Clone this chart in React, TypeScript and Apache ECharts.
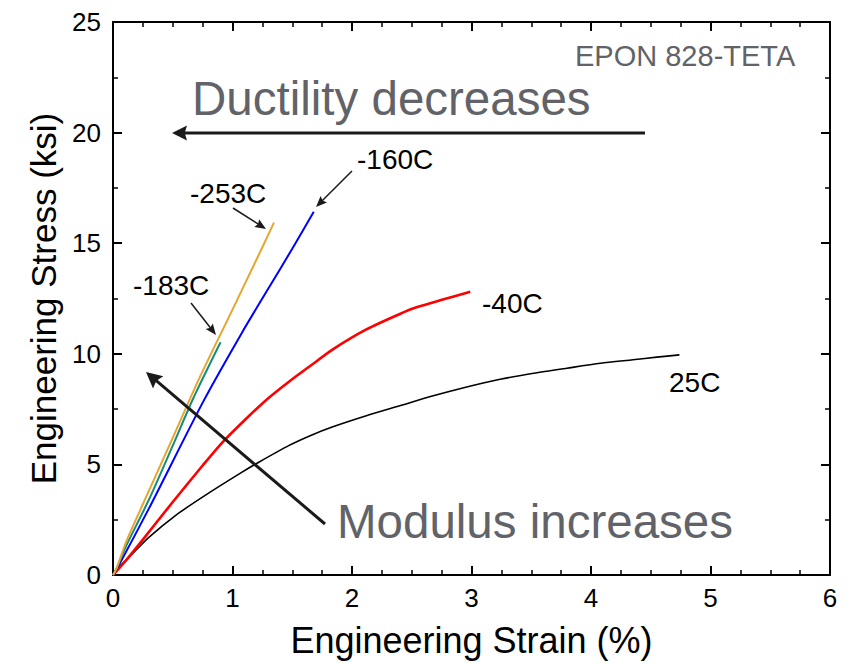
import React, { useEffect, useRef } from "react";
import * as echarts from "echarts";

// ---- data ----
const xTicks = [0, 1, 2, 3, 4, 5, 6];
const yTicks = [0, 5, 10, 15, 20, 25];

const strain25C = [0, 0.05, 0.134, 0.3, 0.525, 0.8, 1.08, 1.22, 1.47, 1.65, 1.84, 2.12, 2.4, 2.68, 2.96, 3.24, 3.52, 3.8, 4.08, 4.35, 4.55, 4.74];
const stress25C = [0, 0.35, 0.8, 1.7, 2.7, 3.7, 4.65, 5.1, 5.85, 6.3, 6.7, 7.2, 7.65, 8.1, 8.5, 8.85, 9.12, 9.35, 9.57, 9.73, 9.85, 9.95];

const strainM40C = [0, 0.1, 0.25, 0.5, 0.75, 0.916, 1.14, 1.29, 1.475, 1.65, 1.84, 2.12, 2.4, 2.54, 2.76, 2.99];
const stressM40C = [0, 0.6, 1.6, 3.3, 4.95, 6.0, 7.2, 7.95, 8.75, 9.45, 10.2, 11.1, 11.8, 12.1, 12.45, 12.8];

const strainM160C = [0, 0.05, 0.3, 0.756, 1.084, 1.3, 1.5, 1.68];
const stressM160C = [0, 0.45, 3.0, 7.85, 11.0, 12.95, 14.75, 16.42];

const strainM183C = [0, 0.03, 0.1, 0.3, 0.5, 0.672, 0.9];
const stressM183C = [0, 0.3, 1.2, 3.4, 5.85, 7.99, 10.52];

const strainM253C = [0, 0.03, 0.11, 0.3, 0.5, 0.714, 1.0, 1.2, 1.347];
const stressM253C = [0, 0.3, 1.5, 3.8, 6.2, 8.8, 12.0, 14.25, 15.93];

const FONT = "'Liberation Sans', Arial, sans-serif";
const GRAY = "#616368";

const zip = (xs: number[], ys: number[]) => xs.map((x, i) => [x, ys[i]]);

function arrow(x1: number, y1: number, x2: number, y2: number, w: number, headLen: number, headHalf: number) {
  const dx = x2 - x1;
  const dy = y2 - y1;
  const len = Math.sqrt(dx * dx + dy * dy);
  const ux = dx / len;
  const uy = dy / len;
  const bx = x2 - ux * headLen;
  const by = y2 - uy * headLen;
  const px = -uy;
  const py = ux;
  return [
    {
      type: "line",
      shape: { x1, y1, x2: x2 - ux * headLen * 0.6, y2: y2 - uy * headLen * 0.6 },
      style: { stroke: "#1a1a1a", lineWidth: w },
      z: 100,
    },
    {
      type: "polygon",
      shape: {
        points: [
          [x2, y2],
          [bx + px * headHalf, by + py * headHalf],
          [bx + ux * headLen * 0.15, by + uy * headLen * 0.15],
          [bx - px * headHalf, by - py * headHalf],
        ],
      },
      style: { fill: "#1a1a1a" },
      z: 100,
    },
  ];
}

function label(text: string, x: number, y: number, size: number, color: string) {
  return {
    type: "text",
    x,
    y,
    z: 100,
    style: {
      text,
      fill: color,
      fontSize: size,
      fontFamily: FONT,
      align: "left",
      verticalAlign: "middle",
    },
  };
}

export default function App() {
  const ref = useRef<HTMLDivElement>(null);

  useEffect(() => {
    if (!ref.current) return;
    const chart = echarts.init(ref.current, undefined, { renderer: "svg" });

    const baseX = {
      type: "value",
      min: xTicks[0],
      max: xTicks[xTicks.length - 1],
      interval: 1,
      splitLine: { show: false },
      axisLine: { show: true, onZero: false, lineStyle: { color: "#000", width: 2 } },
      axisTick: { show: true, inside: true, length: 9, lineStyle: { color: "#000", width: 2 } },
      minorTick: { show: true, splitNumber: 4, length: 5, lineStyle: { color: "#000", width: 1.5 } },
    };
    const baseY = {
      type: "value",
      min: yTicks[0],
      max: yTicks[yTicks.length - 1],
      interval: 5,
      splitLine: { show: false },
      axisLine: { show: true, onZero: false, lineStyle: { color: "#000", width: 2 } },
      axisTick: { show: true, inside: true, length: 9, lineStyle: { color: "#000", width: 2 } },
      minorTick: { show: true, splitNumber: 2, length: 5, lineStyle: { color: "#000", width: 1.5 } },
    };

    const lineSeries = (name: string, xs: number[], ys: number[], color: string, width: number) => ({
      name,
      type: "line",
      data: zip(xs, ys),
      showSymbol: false,
      symbol: "none",
      smooth: 0.25,
      lineStyle: { color, width },
      xAxisIndex: 0,
      yAxisIndex: 0,
    });

    chart.setOption({
      animation: false,
      backgroundColor: "#fff",
      grid: { left: 113, right: 38, top: 22, bottom: 91, containLabel: false },
      xAxis: [
        {
          ...baseX,
          position: "bottom",
          axisLabel: { show: true, color: "#000", fontSize: 26, fontFamily: FONT, margin: 10 },
          name: "Engineering Strain (%)",
          nameLocation: "middle",
          nameGap: 47,
          nameTextStyle: { color: "#000", fontSize: 36, fontFamily: FONT },
        },
        { ...baseX, position: "top", axisLabel: { show: false } },
      ],
      yAxis: [
        {
          ...baseY,
          position: "left",
          axisLabel: { show: true, color: "#000", fontSize: 26, fontFamily: FONT, margin: 12 },
          name: "Engineering Stress (ksi)",
          nameLocation: "middle",
          nameGap: 48,
          nameTextStyle: { color: "#000", fontSize: 35, fontFamily: FONT },
        },
        { ...baseY, position: "right", axisLabel: { show: false } },
      ],
      series: [
        lineSeries("25C", strain25C, stress25C, "#000000", 1.6),
        lineSeries("-40C", strainM40C, stressM40C, "#ff0000", 2.6),
        lineSeries("-160C", strainM160C, stressM160C, "#0000ff", 2),
        lineSeries("-183C", strainM183C, stressM183C, "#178c79", 2),
        lineSeries("-253C", strainM253C, stressM253C, "#e6a630", 2),
      ],
      graphic: [
        label("EPON 828-TETA", 575, 56, 29, GRAY),
        label("Ductility decreases", 192, 98, 47.5, GRAY),
        label("Modulus increases", 337, 521, 47.5, GRAY),
        label("-160C", 357, 159, 28, "#000"),
        label("-253C", 190, 193, 28, "#000"),
        label("-183C", 133, 285, 28, "#000"),
        label("-40C", 482, 303, 28, "#000"),
        label("25C", 669, 382, 28, "#000"),
        ...arrow(645, 133, 172, 133, 3, 15, 7.5),
        ...arrow(325, 524, 146, 372, 3, 16, 8),
        ...arrow(352, 171, 316, 207, 1.5, 11, 4.5),
        ...arrow(233, 208, 266, 229, 1.5, 11, 4.5),
        ...arrow(191, 303, 216, 335, 1.5, 11, 4.5),
      ],
    });

    return () => chart.dispose();
  }, []);

  return (
    <div
      ref={ref}
      style={{ position: "absolute", left: 0, top: 0, width: 868, height: 666, background: "#fff" }}
    />
  );
}
